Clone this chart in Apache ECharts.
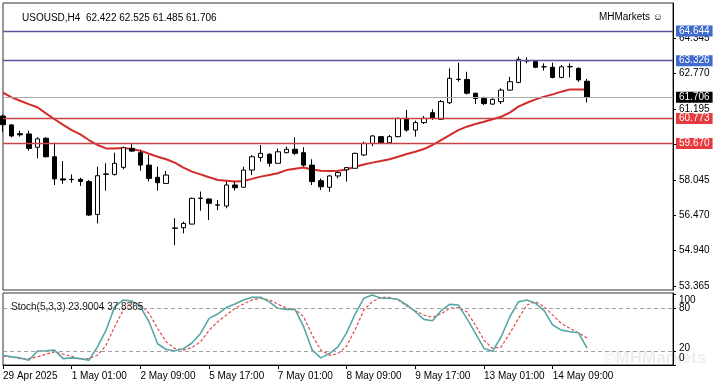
<!DOCTYPE html>
<html><head><meta charset="utf-8">
<script src="https://cdn.jsdelivr.net/npm/echarts@6/dist/echarts.min.js"></script>
<style>html,body{margin:0;padding:0;background:#fff}#c{width:718px;height:389px}</style>
</head><body><div id="c"></div>
<script>
const chartTitle = 'USOUSD,H4  62.422 62.525 61.485 61.706';
const brandText = 'MHMarkets \u263A';
const stochTitle = 'Stoch(5,3,3) 23.9004 37.8365';
const firstLabel = '29 Apr 2025';

const categories = [
 '29 Apr 17:00','29 Apr 21:00','30 Apr 01:00','30 Apr 05:00','30 Apr 09:00','30 Apr 13:00','30 Apr 17:00','30 Apr 21:00',
 '1 May 01:00','1 May 05:00','1 May 09:00','1 May 13:00','1 May 17:00','1 May 21:00',
 '2 May 01:00','2 May 05:00','2 May 09:00','2 May 13:00','2 May 17:00','2 May 21:00',
 '5 May 01:00','5 May 05:00','5 May 09:00','5 May 13:00','5 May 17:00','5 May 21:00',
 '6 May 01:00','6 May 05:00','6 May 09:00','6 May 13:00','6 May 17:00','6 May 21:00',
 '7 May 01:00','7 May 05:00','7 May 09:00','7 May 13:00','7 May 17:00','7 May 21:00',
 '8 May 01:00','8 May 05:00','8 May 09:00','8 May 13:00','8 May 17:00','8 May 21:00',
 '9 May 01:00','9 May 05:00','9 May 09:00','9 May 13:00','9 May 17:00','9 May 21:00',
 '12 May 01:00','12 May 05:00','12 May 09:00','12 May 13:00','12 May 17:00','12 May 21:00',
 '13 May 01:00','13 May 05:00','13 May 09:00','13 May 13:00','13 May 17:00','13 May 21:00',
 '14 May 01:00','14 May 05:00','14 May 09:00','14 May 13:00','14 May 17:00','14 May 21:00',
 '15 May 01:00'
];

const opens  = [60.88,60.49,60.10,60.09,59.50,59.90,59.08,58.10,58.08,58.08,57.98,56.53,58.30,58.30,58.61,59.45,59.26,58.71,58.17,57.90,
                55.91,55.94,56.10,57.24,57.21,56.94,56.90,57.83,57.73,58.49,59.05,59.19,58.79,59.26,59.41,59.26,58.71,58.02,57.73,58.23,
                58.50,58.57,59.16,59.67,59.97,59.70,59.97,60.78,60.26,60.59,61.03,60.74,61.47,62.50,62.50,61.89,61.66,61.41,61.52,62.03,
                62.37,63.32,63.29,63.06,63.04,62.59,63.06,62.99,62.422];
const closes = [60.50,60.00,60.05,59.45,59.87,59.08,58.10,58.05,58.07,57.99,56.50,58.24,58.32,58.79,59.48,59.33,58.71,58.12,57.93,58.27,
                55.93,56.13,57.24,57.25,57.02,56.95,57.83,57.71,58.49,59.08,59.23,58.79,59.30,59.41,59.23,58.71,57.98,57.75,58.23,58.38,
                58.60,59.23,59.67,60.00,59.70,59.97,60.78,60.26,60.59,60.78,60.78,61.52,62.55,62.51,61.89,61.66,61.43,61.62,62.03,62.40,
                63.39,63.33,63.04,63.06,62.59,63.06,63.07,62.48,61.706];
const lows   = [60.19,59.94,59.97,59.35,59.01,59.05,57.83,57.88,57.93,57.79,56.46,56.13,57.58,58.24,58.52,59.30,58.46,57.98,57.58,57.90,
                55.17,55.69,56.10,56.69,56.28,56.72,56.80,57.58,57.73,58.27,58.86,58.64,58.79,59.23,59.16,58.64,57.83,57.61,57.53,58.12,
                57.98,58.57,59.11,59.55,59.67,59.64,59.94,60.19,59.97,60.53,60.71,60.74,61.41,62.40,61.84,61.41,61.37,61.37,61.41,62.00,
                62.33,63.21,63.00,62.89,62.55,62.55,62.59,62.40,61.485];
const highs  = [60.95,60.52,60.23,60.23,59.94,59.94,59.70,58.89,58.30,58.15,58.05,58.64,58.79,59.26,59.53,59.64,59.38,59.16,58.64,58.45,
                56.36,56.21,57.27,57.54,57.23,57.17,57.98,57.98,58.64,59.16,59.60,59.23,59.45,59.53,59.94,59.50,58.97,58.12,58.27,58.42,
                58.62,59.26,59.75,60.04,60.00,60.04,60.81,61.15,60.68,60.88,61.18,61.59,62.99,63.24,62.84,61.91,61.74,61.66,62.11,62.62,
                63.51,63.48,63.32,63.21,63.24,63.14,63.21,63.04,62.525];
const maValues = [61.92,61.71,61.56,61.41,61.27,61.00,60.74,60.49,60.26,60.07,59.82,59.60,59.45,59.45,59.47,59.42,59.35,59.21,59.08,58.97,
                58.82,58.60,58.42,58.30,58.17,58.05,58.02,57.98,58.01,58.10,58.20,58.27,58.35,58.49,58.55,58.60,58.52,58.46,58.45,58.46,
                58.52,58.64,58.74,58.82,58.89,58.97,59.08,59.20,59.30,59.42,59.60,59.82,60.04,60.26,60.41,60.53,60.63,60.74,60.85,61.03,
                61.30,61.47,61.62,61.74,61.84,61.96,62.06,62.06,62.06];
const stochK = [13.8,11.5,10,6.7,19.5,20,21,9,10,9,6.7,25.6,49,82,91.7,90,82,61,30,21.8,
                20,23,31,44.5,65.7,72,81,86,91.7,95.4,95.4,89,79.9,78.4,78.4,54,21,10,16,25.6,
                45.4,72,94,98.7,94,94,92.6,84.6,75.1,64.3,62.4,76.6,85.5,84.6,65.7,44.5,23.3,19.5,39.8,68,
                89,91.7,87,76.6,56.3,49.2,46.8,45.4,23.9004];
const stochD = [12.4,11.5,9,9,11.5,15.2,18.5,15.2,12.4,8.2,9,13.8,28,54,77.5,89,84.6,72.8,51.5,32.7,
                23.3,21,24.7,32.7,49,61,70.4,79.9,86,91.7,94,91.7,86,79.9,78.4,68,42,21,13.8,16,
                26.6,50,77.5,89.3,95.4,95.4,91.7,83.2,76.6,70.4,67.1,72,80,81,75.1,56.3,35,23.3,25.6,44.5,
                65.7,84.6,89.3,82.2,70.4,58.6,51.5,45.4,37.8365];

const priceTicks = [64.345, 62.770, 61.195, 59.620, 58.045, 56.470, 54.940, 53.365];
const priceLevels = [64.644, 63.326, 61.706, 60.773, 59.670];
const levelKinds  = ['blue','blue','price','red','red'];
const stochLevels = [80, 20];
const stochTicks = [100, 80, 20, 0];
// 100 and 80 sit so close that they share one two-line label anchored at 100
const stochLabelAt = [100, 20, 0];

const levelStyle = {
  blue:  {line:'#55559a', bg:'#3f6ccc', w:1.3},
  price: {line:'#a8a8a8', bg:'#000000', w:1},
  red:   {line:'#c84444', bg:'#e63a3e', w:1.3}
};

const PAD = 10;
const cats = categories.concat(Array(PAD).fill(''));
const labelEvery = (i) => i % 8 === 0 && i < categories.length;
const FONT = 'Liberation Sans';

const chart = echarts.init(document.getElementById('c'), null, {renderer:'canvas'});
chart.setOption({
  animation:false,
  textStyle:{fontFamily:FONT},
  title:[
    {text:chartTitle, left:17, top:8, textStyle:{fontSize:10,fontWeight:'normal',color:'#000',fontFamily:FONT}},
    {text:brandText, right:50, top:7, textStyle:{fontSize:10,fontWeight:'normal',color:'#000',fontFamily:FONT}},
    {text:stochTitle, left:6, top:297, textStyle:{fontSize:10,fontWeight:'normal',color:'#222',fontFamily:FONT}}
  ],
  graphic:[{type:'text', left:603, top:350, z:0, silent:true,
    style:{text:'\u00A9MHMarkets', fill:'rgba(0,0,0,0.07)', font:'bold 17px '+FONT}}],
  grid:[
    {left:3, right:45, top:3, height:287, show:true, borderColor:'#333', borderWidth:1},
    {left:3, right:45, top:293, height:72, show:true, borderColor:'#333', borderWidth:1}
  ],
  xAxis:[
    {type:'category', gridIndex:0, data:cats, boundaryGap:false,
     axisLine:{show:false}, axisTick:{show:false}, axisLabel:{show:false}, splitLine:{show:false}},
    {type:'category', gridIndex:1, data:cats, boundaryGap:false,
     axisLine:{show:true, lineStyle:{color:'#000'}},
     axisTick:{show:true, interval:labelEvery, length:4, lineStyle:{color:'#000'}},
     axisLabel:{show:true, interval:labelEvery, align:'left', margin:6, fontSize:10, color:'#000', fontFamily:FONT,
       hideOverlap:false, formatter:(v,i)=> i===0 ? firstLabel : v},
     splitLine:{show:false}}
  ],
  yAxis:[
    {type:'value', gridIndex:0, position:'right', min:53.184, max:65.883, scale:true,
     axisLine:{show:true, lineStyle:{color:'#000'}},
     axisTick:{show:true, customValues:priceTicks, length:3, lineStyle:{color:'#000'}},
     axisLabel:{show:true, customValues:priceTicks, margin:6, fontSize:10, color:'#000', fontFamily:FONT,
       formatter:v=>v.toFixed(3)},
     splitLine:{show:false}},
    {type:'value', gridIndex:1, position:'right', min:0, max:101.5,
     axisLine:{show:true, lineStyle:{color:'#000'}},
     axisTick:{show:true, customValues:stochTicks, length:3, lineStyle:{color:'#000'}},
     axisLabel:{show:true, customValues:stochLabelAt, margin:6, fontSize:10, color:'#000', fontFamily:FONT,
       showMaxLabel:true, showMinLabel:true, hideOverlap:false,
       formatter:v=>{const k=Math.round(v);
         if (k===100) return '{top|}\n{l|100}\n{l|80}';
         return '{s'+k+'|'+k+'}';},
       rich:{top:{height:20, lineHeight:20}, l:{lineHeight:8, height:8, fontSize:10},
             s20:{padding:[0,0,6,0]}, s0:{padding:[0,0,14,0]}}},
     splitLine:{show:false}}
  ],
  series:[
    {type:'line', name:'MA', xAxisIndex:0, yAxisIndex:0, data:maValues, showSymbol:false, smooth:false, z:1,
     lineStyle:{color:'#d42a2a', width:2}, emphasis:{disabled:true}},
    {type:'candlestick', name:'USOUSD', xAxisIndex:0, yAxisIndex:0, z:3, barWidth:5,
     data:opens.map((o,i)=>[o, closes[i], lows[i], highs[i]]),
     itemStyle:{color:'#ffffff', color0:'#000000', borderColor:'#000000', borderColor0:'#000000', borderWidth:1},
     emphasis:{disabled:true},
     markLine:{silent:true, symbol:['none','none'], animation:false,
       data: priceLevels.map((v,i)=>{
         const s = levelStyle[levelKinds[i]];
         return {yAxis:v,
           lineStyle:{color:s.line, width:s.w, type:'solid'},
           label:{show:true, position:'end', distance:3, formatter:v.toFixed(3), color:'#fff',
             backgroundColor:s.bg, padding:[1,3,0,3], fontSize:10, fontFamily:FONT}};
       })}},
    {type:'line', name:'K', xAxisIndex:1, yAxisIndex:1, data:stochK, showSymbol:false, z:3,
     lineStyle:{color:'#55a8a5', width:1.6}, emphasis:{disabled:true},
     markLine:{silent:true, symbol:['none','none'], label:{show:false}, animation:false,
       lineStyle:{color:'#a0a0a0', width:1, type:[4,3]},
       data: stochLevels.map(v=>({yAxis:v}))}},
    {type:'line', name:'D', xAxisIndex:1, yAxisIndex:1, data:stochD, showSymbol:false, z:2,
     lineStyle:{color:'#e04a4a', width:1.2, type:[3,2]}, emphasis:{disabled:true}}
  ]
});
</script></body></html>
